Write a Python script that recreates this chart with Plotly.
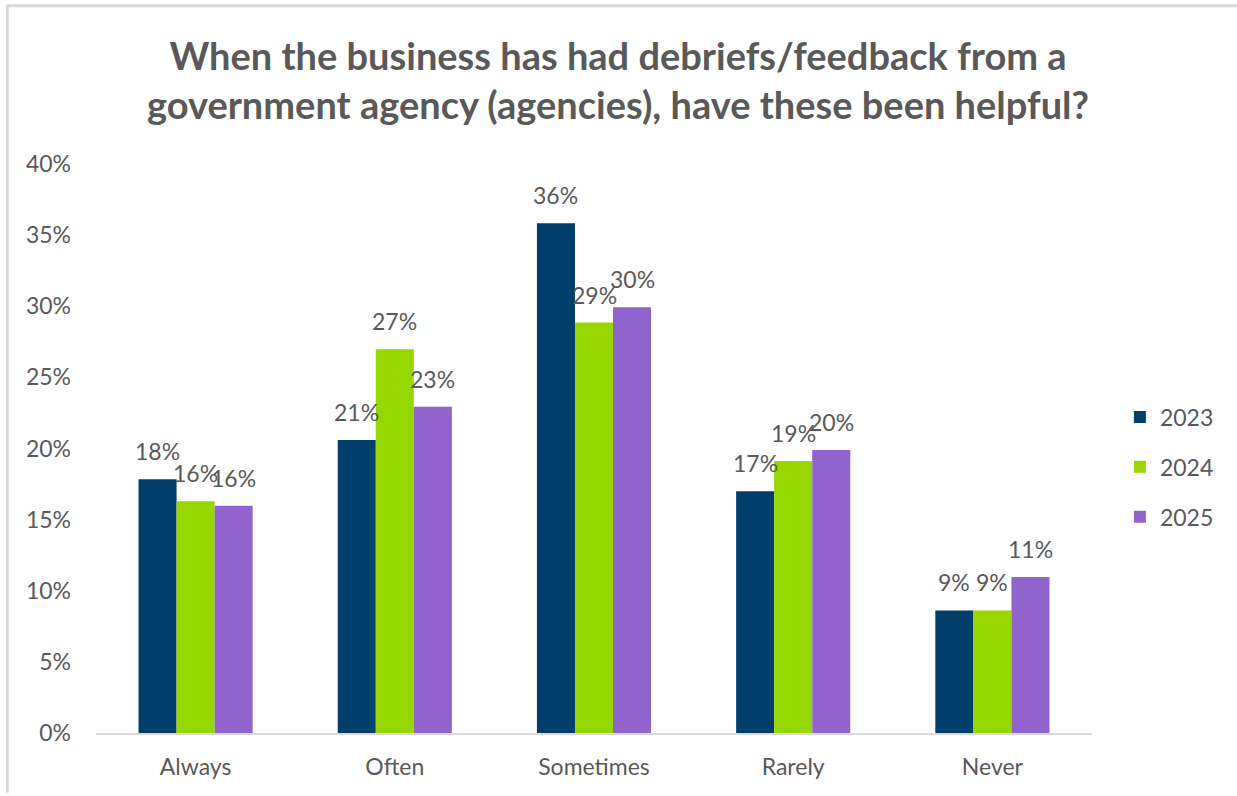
import plotly.graph_objects as go

# Survey responses by year
categories = ["Always", "Often", "Sometimes", "Rarely", "Never"]
years = ["2023", "2024", "2025"]
share_2023 = [0.1783, 0.206, 0.3583, 0.1699, 0.0862]
share_2024 = [0.1629, 0.2697, 0.2885, 0.1912, 0.0862]
share_2025 = [0.1598, 0.2294, 0.2993, 0.1989, 0.1097]
tick_vals = [0, 0.05, 0.10, 0.15, 0.20, 0.25, 0.30, 0.35, 0.40]

colors = ["#003f6b", "#97d700", "#9063cd"]
gray = "#595959"
font_family = "Lato, 'Open Sans', sans-serif"
title_text = ("<b>When the business has had debriefs/feedback from a<br>"
              "government agency (agencies), have these been helpful?</b>")

# plot-area geometry used to place value labels over each grouped bar
plot_w = 1237 - 96 - 145
bargap = 0.427
bar_px = plot_w / len(categories) * (1 - bargap) / len(years)

series = [share_2023, share_2024, share_2025]

fig = go.Figure()
annotations = []
for i, (name, vals, col) in enumerate(zip(years, series, colors)):
    fig.add_trace(go.Bar(
        x=categories, y=vals, name=name, legendgroup=name,
        marker=dict(color=col, line=dict(width=0)),
        cliponaxis=False,
    ))
    for cat, v in zip(categories, vals):
        annotations.append(dict(
            x=cat, y=v, xref="x", yref="y",
            text=f"{v:.0%}", showarrow=False,
            xanchor="center", yanchor="bottom",
            xshift=(i - 1) * bar_px, yshift=12,
            font=dict(size=23, color=gray, family=font_family),
        ))

annotations.append(dict(
    text=title_text, xref="paper", yref="paper",
    x=0.524, y=1.148, xanchor="center", yanchor="middle",
    showarrow=False, align="center",
    font=dict(size=38, color=gray, family=font_family),
))

fig.update_layout(
    width=1237, height=796,
    margin=dict(l=96, r=145, t=164, b=63),
    paper_bgcolor="white", plot_bgcolor="white",
    barmode="group", bargap=bargap, bargroupgap=0,
    font=dict(family=font_family, color=gray, size=23),
    xaxis=dict(
        showline=True, linecolor="#d9d9d9", linewidth=2,
        ticks="", tickfont=dict(size=23, color=gray),
        ticklabelstandoff=12, showgrid=False,
    ),
    yaxis=dict(
        range=[0, 0.40], tickvals=tick_vals, tickformat=".0%",
        showgrid=False, zeroline=False, showline=False,
        ticks="", tickfont=dict(size=23, color=gray),
        ticklabelstandoff=24,
    ),
    legend=dict(
        x=1.028, xanchor="left", y=0.4675, yanchor="middle",
        font=dict(size=23, color=gray), tracegroupgap=17,
        bgcolor="rgba(0,0,0,0)",
    ),
    annotations=annotations,
    shapes=[
        dict(type="line", xref="paper", yref="paper",
             x0=-0.089, x1=1.2, y0=1.278, y1=1.278,
             line=dict(color="#d9d9d9", width=3)),
        dict(type="line", xref="paper", yref="paper",
             x0=-0.089, x1=-0.089, y0=1.28, y1=-0.105,
             line=dict(color="#d9d9d9", width=3)),
    ],
)

fig.write_html("out.html")
